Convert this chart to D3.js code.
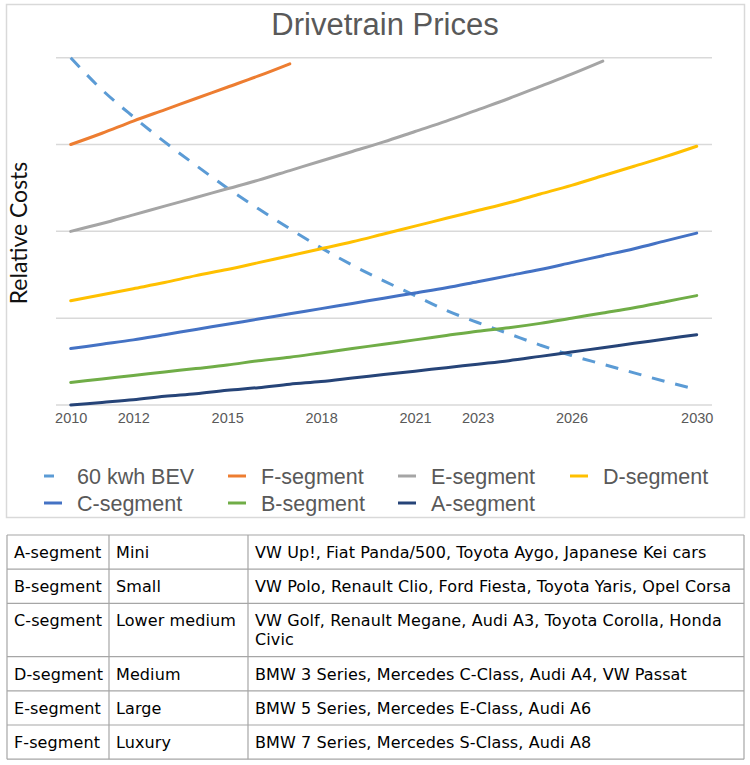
<!DOCTYPE html>
<html>
<head>
<meta charset="utf-8">
<script src="https://cdn.jsdelivr.net/npm/d3@7"></script>
<style>
  body { margin: 0; background: #fff; }
</style>
</head>
<body>
<script>
// Data (relative cost units, one gridline = 1)
var years = [2010, 2011, 2012, 2013, 2014, 2015, 2016, 2017, 2018, 2019, 2020,
             2021, 2022, 2023, 2024, 2025, 2026, 2027, 2028, 2029, 2030];
var tickYears = [2010, 2012, 2015, 2018, 2021, 2023, 2026, 2030];
var gridValues = [0, 1, 2, 3, 4];

var bev  = [4.00, 3.63, 3.32, 3.03, 2.76, 2.50, 2.26, 2.03, 1.81, 1.61, 1.43,
            1.26, 1.09, 0.95, 0.82, 0.69, 0.57, 0.47, 0.37, 0.27, 0.18];
var fSeg = [3.00, 3.13, 3.27, 3.40, 3.53, 3.66, 3.79, 3.93];
var eSeg = [2.00, 2.09, 2.19, 2.29, 2.39, 2.49, 2.59, 2.70, 2.81, 2.92, 3.03,
            3.15, 3.27, 3.40, 3.53, 3.67, 3.81, 3.96];
var dSeg = [1.20, 1.27, 1.34, 1.41, 1.49, 1.56, 1.64, 1.72, 1.80, 1.88, 1.97,
            2.06, 2.15, 2.24, 2.33, 2.43, 2.53, 2.64, 2.75, 2.86, 2.98];
var cSeg = [0.65, 0.70, 0.75, 0.81, 0.87, 0.93, 0.99, 1.05, 1.11, 1.17, 1.23,
            1.29, 1.35, 1.42, 1.49, 1.56, 1.64, 1.72, 1.80, 1.89, 1.98];
var bSeg = [0.26, 0.30, 0.34, 0.38, 0.42, 0.46, 0.51, 0.55, 0.60, 0.65, 0.70,
            0.75, 0.80, 0.85, 0.89, 0.94, 1.00, 1.06, 1.12, 1.19, 1.26];
var aSeg = [0.00, 0.03, 0.06, 0.10, 0.13, 0.17, 0.20, 0.24, 0.27, 0.31, 0.35,
            0.39, 0.43, 0.47, 0.51, 0.56, 0.61, 0.66, 0.71, 0.76, 0.81];

var seriesNames  = ["60 kwh BEV", "F-segment", "E-segment", "D-segment", "C-segment", "B-segment", "A-segment"];
var seriesValues = [bev, fSeg, eSeg, dSeg, cSeg, bSeg, aSeg];
var seriesColors = ["#5b9bd5", "#ed7d31", "#a5a5a5", "#ffc000", "#4472c4", "#70ad47", "#264478"];

// table under the chart
var segNames = ["A-segment", "B-segment", "C-segment", "D-segment", "E-segment", "F-segment"];
var segSizes = ["Mini", "Small", "Lower medium", "Medium", "Large", "Luxury"];
var segCars  = ["VW Up!, Fiat Panda/500, Toyota Aygo, Japanese Kei cars",
                "VW Polo, Renault Clio, Ford Fiesta, Toyota Yaris, Opel Corsa",
                "VW Golf, Renault Megane, Audi A3, Toyota Corolla, Honda Civic",
                "BMW 3 Series, Mercedes C-Class, Audi A4, VW Passat",
                "BMW 5 Series, Mercedes E-Class, Audi A6",
                "BMW 7 Series, Mercedes S-Class, Audi A8"];

var width = 750, height = 765;

var svg = d3.select("body")
    .append("svg")
    .attr("width", width)
    .attr("height", height);

// chart frame
svg.append("rect")
    .attr("x", 6.5).attr("y", 4.5)
    .attr("width", 738).attr("height", 513)
    .attr("fill", "none")
    .attr("stroke", "#d9d9d9")
    .attr("stroke-width", 1.5);

var x = d3.scaleLinear().domain([2010, 2030]).range([70.7, 696.7]);
var y = d3.scaleLinear().domain([0, 4]).range([405, 57.7]);

// title
svg.append("text")
    .attr("x", 385).attr("y", 35)
    .attr("text-anchor", "middle")
    .attr("font-family", "'Liberation Sans', Arial, sans-serif")
    .attr("font-size", 31)
    .attr("fill", "#595959")
    .text("Drivetrain Prices");

// y axis title
svg.append("text")
    .attr("transform", "translate(27,233) rotate(-90)")
    .attr("text-anchor", "middle")
    .attr("font-family", "Lato, sans-serif")
    .attr("font-size", 23)
    .attr("fill", "#111")
    .text("Relative Costs");

// gridlines
svg.append("g")
    .selectAll("line")
    .data(gridValues)
    .enter().append("line")
    .attr("x1", 56).attr("x2", 712)
    .attr("y1", function(d) { return y(d); })
    .attr("y2", function(d) { return y(d); })
    .attr("stroke", "#d9d9d9")
    .attr("stroke-width", 1.5);

// x axis
var xAxis = svg.append("g")
    .attr("transform", "translate(0," + y(0) + ")")
    .call(d3.axisBottom(x)
        .tickValues(tickYears)
        .tickFormat(d3.format("d"))
        .tickSize(0)
        .tickPadding(8));
xAxis.select(".domain").remove();
xAxis.selectAll("text")
    .attr("font-family", "'Liberation Sans', Arial, sans-serif")
    .attr("font-size", 14.5)
    .attr("fill", "#595959");

// lines
var line = d3.line()
    .x(function(d) { return x(d.year); })
    .y(function(d) { return y(d.value); })
    .curve(d3.curveMonotoneX);

var series = seriesNames.map(function(name, i) {
    return {
        name: name,
        color: seriesColors[i],
        dashed: i === 0,
        points: seriesValues[i].map(function(v, j) { return {year: years[j], value: v}; })
    };
});

svg.append("g")
    .selectAll("path")
    .data(series)
    .enter().append("path")
    .attr("d", function(d) { return line(d.points); })
    .attr("fill", "none")
    .attr("stroke", function(d) { return d.color; })
    .attr("stroke-width", 3)
    .attr("stroke-linecap", function(d) { return d.dashed ? "butt" : "round"; })
    .attr("stroke-dasharray", function(d) { return d.dashed ? "13,11" : null; });

// legend
var legendX = [77, 261, 431, 603];
var legend = svg.append("g")
    .selectAll("g")
    .data(series)
    .enter().append("g")
    .attr("transform", function(d, i) {
        return "translate(" + legendX[i % 4] + "," + (476 + Math.floor(i / 4) * 27) + ")";
    });

legend.append("line")
    .attr("x1", -33).attr("x2", function(d) { return d.dashed ? -23 : -15; })
    .attr("y1", 0).attr("y2", 0)
    .attr("stroke", function(d) { return d.color; })
    .attr("stroke-width", 3);

legend.append("text")
    .attr("dy", "0.35em")
    .attr("font-family", "'Liberation Sans', Arial, sans-serif")
    .attr("font-size", 21.5)
    .attr("fill", "#595959")
    .text(function(d) { return d.name; });

// table
var colX = [7, 109, 248, 744];
var pad = 7;
var tableTop = 535;
var rowH = 34.2, lineH = 19;
var tableFont = "'DejaVu Sans', Verdana, sans-serif";
var tableSize = 16;
var tableSpacing = 0.1;

var table = svg.append("g");

// measure and wrap the third column
var measure = svg.append("text")
    .attr("font-family", tableFont)
    .attr("font-size", tableSize)
    .attr("letter-spacing", tableSpacing);
function wrap(str, maxW) {
    var words = str.split(" "), lines = [], cur = "";
    words.forEach(function(w) {
        var test = cur ? cur + " " + w : w;
        measure.text(test);
        if (measure.node().getComputedTextLength() > maxW && cur) {
            lines.push(cur);
            cur = w;
        } else {
            cur = test;
        }
    });
    lines.push(cur);
    return lines;
}

var rows = segNames.map(function(name, i) {
    return {cells: [[name], [segSizes[i]], wrap(segCars[i], colX[3] - colX[2] - pad - 2)]};
});
measure.remove();

var yPos = tableTop;
rows.forEach(function(r) {
    var n = d3.max(r.cells, function(c) { return c.length; });
    r.top = yPos;
    r.h = rowH + (n - 1) * lineH;
    yPos += r.h;
});
var tableBottom = yPos;

rows.forEach(function(r) {
    r.cells.forEach(function(cell, ci) {
        var t = table.append("text")
            .attr("font-family", tableFont)
            .attr("font-size", tableSize)
            .attr("letter-spacing", tableSpacing)
            .attr("fill", "#000");
        cell.forEach(function(txt, li) {
            t.append("tspan")
                .attr("x", colX[ci] + pad)
                .attr("y", r.top + 23 + li * lineH)
                .text(txt);
        });
    });
});

// table borders
var hLines = [tableTop].concat(rows.map(function(r) { return r.top + r.h; }));
table.selectAll(".hline")
    .data(hLines)
    .enter().append("line")
    .attr("x1", colX[0]).attr("x2", colX[3])
    .attr("y1", function(d) { return d; })
    .attr("y2", function(d) { return d; })
    .attr("stroke", "#a6a6a6")
    .attr("stroke-width", 1.2);

table.selectAll(".vline")
    .data(colX)
    .enter().append("line")
    .attr("x1", function(d) { return d; })
    .attr("x2", function(d) { return d; })
    .attr("y1", tableTop).attr("y2", tableBottom)
    .attr("stroke", "#a6a6a6")
    .attr("stroke-width", 1.2);
</script>
</body>
</html>
